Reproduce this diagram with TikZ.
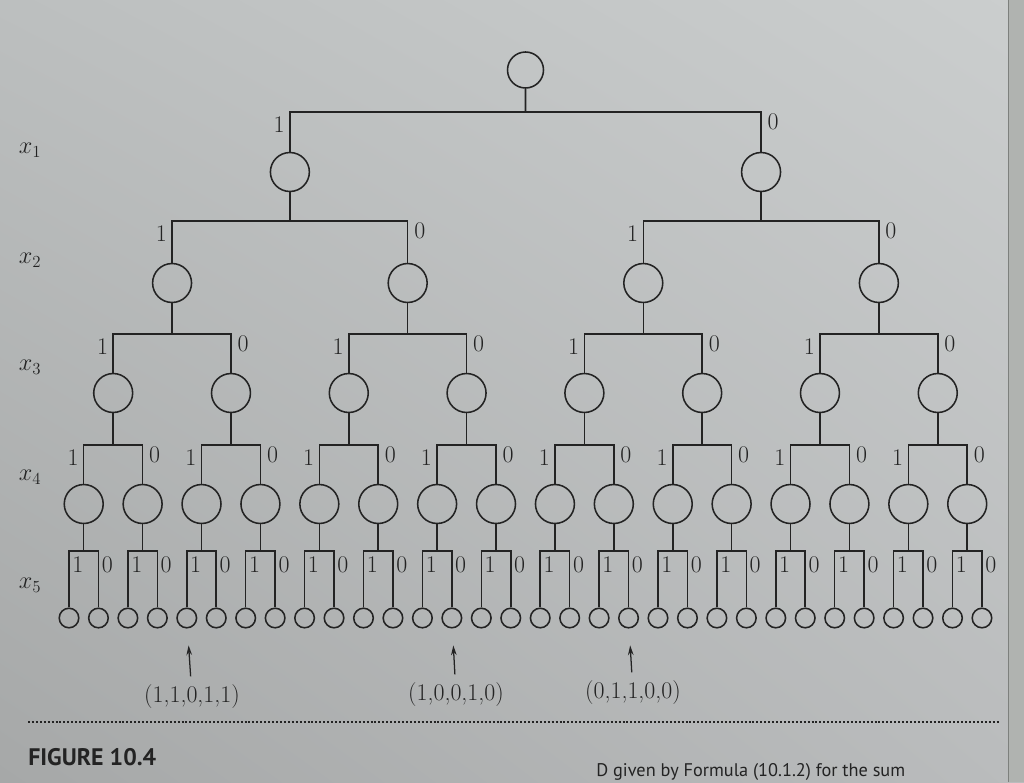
\documentclass[tikz,border=0pt]{standalone}
\usepackage{fontspec}
\newfontfamily\capfont{PT Sans}
\usetikzlibrary{arrows.meta,shadings}
\definecolor{ink}{RGB}{35,35,35}
\definecolor{paperUL}{RGB}{188,191,191}
\definecolor{paperUR}{RGB}{203,206,206}
\definecolor{paperLL}{RGB}{166,168,168}
\definecolor{paperLR}{RGB}{186,188,189}
\definecolor{pageedge}{RGB}{176,179,176}
\definecolor{edgeline}{RGB}{125,128,125}
\tikzset{
  knot/.style={circle,draw=ink,line width=1.1pt,minimum size=27.7pt,inner sep=0pt},
  leaf/.style={circle,draw=ink,line width=1.1pt,minimum size=13.9pt,inner sep=0pt},
  link/.style={draw=ink,line width=1.1pt},
  bit/.style={font=\fontsize{17}{17}\selectfont,text=ink,inner sep=1pt},
  onebit/.style={bit,anchor=north east,xshift=-2.5pt,yshift=-2pt},
  zerobit/.style={bit,anchor=north west,xshift=3.5pt},
  lowbit/.style={bit,anchor=north west,xshift=1.2pt,yshift=-3pt},
  rowlabel/.style={font=\LARGE,text=ink},
  tuple/.style={font=\fontsize{17}{17}\selectfont,text=ink,inner sep=3pt},
  pointer/.style={-{Stealth[length=7pt,width=4pt]},draw=ink,line width=0.9pt,shorten >=12pt,shorten <=3pt}
}
\begin{document}
\begin{tikzpicture}[x=0.025cm,y=-0.025cm]
\clip (0,0) rectangle (1024,782);
\shade[upper left=paperUL,upper right=paperUR,lower left=paperLL,lower right=paperLR] (0,0) rectangle (1024,782);
\fill[pageedge] (1008,0) rectangle (1024,782);
\draw[edgeline,line width=0.6pt] (1008,0) -- (1008,782);

\node[knot,minimum size=25.6pt] (n0-0) at (525.5,70) {};
\foreach \k/\cy in {1/172,2/283,3/393,4/504} {
  \pgfmathtruncatemacro\nlast{2^\k-1}
  \foreach \j in {0,...,\nlast} {
    \pgfmathsetmacro\cx{69+29.45*((\j+0.5)*2^(5-\k)-0.5)}
    \node[knot] (n\k-\j) at (\cx,\cy) {};
  }
}
\foreach \j in {0,...,31} {
  \pgfmathsetmacro\cx{69+29.45*\j}
  \node[leaf] (n5-\j) at (\cx,618) {};
}

\foreach \k/\by in {0/112,1/221,2/334,3/445,4/551} {
  \pgfmathtruncatemacro\nlast{2^\k-1}
  \pgfmathtruncatemacro\kk{\k+1}
  \foreach \j in {0,...,\nlast} {
    \pgfmathtruncatemacro\ia{2*\j}
    \pgfmathtruncatemacro\ib{2*\j+1}
    \pgfmathsetmacro\px{69+29.45*((\j+0.5)*2^(5-\k)-0.5)}
    \pgfmathsetmacro\ax{69+29.45*((\ia+0.5)*2^(4-\k)-0.5)}
    \pgfmathsetmacro\bx{69+29.45*((\ib+0.5)*2^(4-\k)-0.5)}
    \coordinate (s\k-\j) at (\px,\by);
    \coordinate (l\k-\j) at (\ax,\by);
    \coordinate (r\k-\j) at (\bx,\by);
    \draw[link] (n\k-\j) -- (s\k-\j);
    \draw[link] (n\kk-\ia) -- (l\k-\j) -- (r\k-\j) -- (n\kk-\ib);
    \ifnum\k<4
      \node[onebit] (o\k-\j) at (l\k-\j) {1};
      \node[zerobit] (z\k-\j) at (r\k-\j) {0};
    \else
      \node[lowbit] (o\k-\j) at (l\k-\j) {1};
      \node[lowbit] (z\k-\j) at (r\k-\j) {0};
    \fi
  }
}

\node[rowlabel] (x1) at (30,150) {$x_1$};
\node[rowlabel] (x2) at (30,260) {$x_2$};
\node[rowlabel] (x3) at (30,367) {$x_3$};
\node[rowlabel] (x4) at (30,477) {$x_4$};
\node[rowlabel] (x5) at (30,585) {$x_5$};

\node[tuple] (t1) at (192,697) {(1,1,0,1,1)};
\node[tuple] (t2) at (456,695) {(1,0,0,1,0)};
\node[tuple] (t3) at (633,693) {(0,1,1,0,0)};
\draw[pointer] (t1) -- (n5-4);
\draw[pointer] (t2) -- (n5-13);
\draw[pointer] (t3) -- (n5-19);

\draw[ink,line width=2pt,dash pattern=on 1.4pt off 1.4pt] (28,722) -- (1000,722);
\node[anchor=west,text=ink,inner sep=0pt,font=\capfont\bfseries\fontsize{17}{17}\selectfont] (fig) at (28,757) {FIGURE 10.4};
\node[anchor=base west,text=ink,inner sep=0pt,font=\capfont\fontsize{13}{13}\selectfont] (capline) at (596,776) {D given by Formula (10.1.2) for the sum};
\end{tikzpicture}
\end{document}
